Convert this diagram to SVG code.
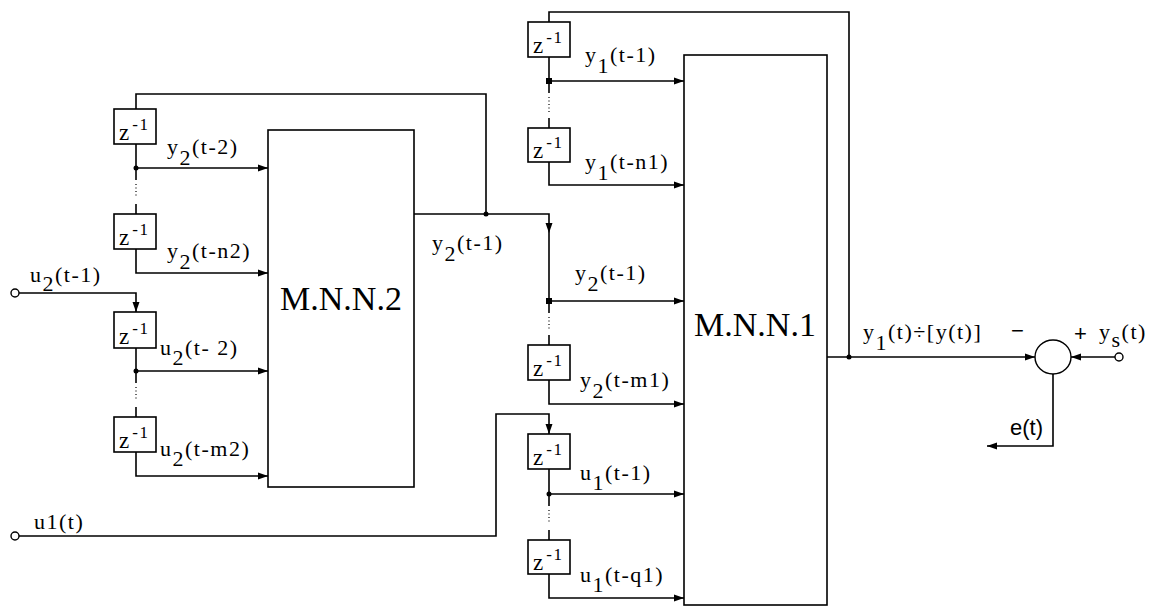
<svg xmlns="http://www.w3.org/2000/svg" width="1151" height="606" viewBox="0 0 1151 606">
<style>
.ln{fill:none;stroke:#000;stroke-width:1.6}
.dt{fill:none;stroke:#000;stroke-width:1.2;stroke-dasharray:1 2.5}
.bx{fill:#fff;stroke:#000;stroke-width:1.6}
.t{font-family:"Liberation Serif","Times New Roman",serif;font-size:22px;letter-spacing:1.5px;fill:#000}
.s{font-family:"Liberation Sans",Arial,sans-serif;font-size:22px;fill:#000}
.z{font-family:"Liberation Serif","Times New Roman",serif;font-size:23px;fill:#000}
.sup{font-size:17px;letter-spacing:1.5px}
.big{font-family:"Liberation Serif","Times New Roman",serif;font-size:34px;fill:#000}
.dot{fill:#000}
.term{fill:#fff;stroke:#000;stroke-width:1.4}
</style>
<defs>
<marker id="ah" markerUnits="userSpaceOnUse" markerWidth="10" markerHeight="8" refX="10" refY="4" orient="auto">
<path d="M0,0.5 L10,4 L0,7.5 z" fill="#000"/>
</marker>
</defs>
<rect width="1151" height="606" fill="#fff"/>

<g id="connectors">
<polyline class="ln" points="486,214 486,94 136,94 136,109"/>
<line class="ln" x1="136" y1="144" x2="136" y2="168"/>
<line class="ln" x1="136" y1="168" x2="268" y2="168" marker-end="url(#ah)"/>
<line class="ln" x1="136" y1="168" x2="136" y2="180"/>
<line class="dt" x1="136" y1="184" x2="136" y2="198"/>
<line class="ln" x1="136" y1="204" x2="136" y2="214"/>
<polyline class="ln" points="136,249 136,273 268,273" marker-end="url(#ah)"/>
<polyline class="ln" points="19,293 136,293 136,312" marker-end="url(#ah)"/>
<line class="ln" x1="136" y1="348" x2="136" y2="371"/>
<line class="ln" x1="136" y1="371" x2="268" y2="371" marker-end="url(#ah)"/>
<line class="ln" x1="136" y1="371" x2="136" y2="383"/>
<line class="dt" x1="136" y1="387" x2="136" y2="401"/>
<line class="ln" x1="136" y1="407" x2="136" y2="417"/>
<polyline class="ln" points="136,452 136,476 268,476" marker-end="url(#ah)"/>
<polyline class="ln" points="414,214 549,214 549,233" marker-end="url(#ah)"/>
<line class="ln" x1="549" y1="233" x2="549" y2="301"/>
<line class="ln" x1="549" y1="301" x2="684" y2="301" marker-end="url(#ah)"/>
<line class="ln" x1="549" y1="301" x2="549" y2="313"/>
<line class="dt" x1="549" y1="317" x2="549" y2="330"/>
<line class="ln" x1="549" y1="335" x2="549" y2="345"/>
<polyline class="ln" points="549,380 549,404 684,404" marker-end="url(#ah)"/>
<polyline class="ln" points="849,357 849,12 549,12 549,22"/>
<line class="ln" x1="549" y1="57" x2="549" y2="81"/>
<line class="ln" x1="549" y1="81" x2="684" y2="81" marker-end="url(#ah)"/>
<line class="ln" x1="549" y1="81" x2="549" y2="93"/>
<line class="dt" x1="549" y1="97" x2="549" y2="112"/>
<line class="ln" x1="549" y1="118" x2="549" y2="128"/>
<polyline class="ln" points="549,162 549,185 684,185" marker-end="url(#ah)"/>
<polyline class="ln" points="19,536 496,536 496,414 549,414 549,434" marker-end="url(#ah)"/>
<line class="ln" x1="549" y1="469" x2="549" y2="494"/>
<line class="ln" x1="549" y1="494" x2="684" y2="494" marker-end="url(#ah)"/>
<line class="ln" x1="549" y1="494" x2="549" y2="506"/>
<line class="dt" x1="549" y1="510" x2="549" y2="524"/>
<line class="ln" x1="549" y1="530" x2="549" y2="540"/>
<polyline class="ln" points="549,574 549,598 684,598" marker-end="url(#ah)"/>
<line class="ln" x1="827" y1="357" x2="1035" y2="357" marker-end="url(#ah)"/>
<line class="ln" x1="1115" y1="357" x2="1071" y2="357" marker-end="url(#ah)"/>
<polyline class="ln" points="1053,374 1053,446 987,446" marker-end="url(#ah)"/>
<circle class="dot" cx="136" cy="168" r="2.5"/>
<circle class="dot" cx="136" cy="371" r="2.5"/>
<circle class="dot" cx="486" cy="214" r="2.5"/>
<rect class="dot" x="546" y="78" width="6" height="6"/>
<rect class="dot" x="546" y="298" width="6" height="6"/>
<circle class="dot" cx="549" cy="494" r="2.5"/>
<circle class="dot" cx="849" cy="357" r="2.5"/>
</g>

<g id="mnn2">
<rect class="bx" x="268" y="130" width="146" height="357"/>
<text class="big" x="341" y="310" text-anchor="middle">M.N.N.2</text>
</g>
<g id="mnn1">
<rect class="bx" x="684" y="55" width="143" height="550"/>
<text class="big" x="755" y="336" text-anchor="middle">M.N.N.1</text>
</g>

<g id="z2a"><rect class="bx" x="114" y="109" width="42" height="35"/><text class="z" x="119" y="140">z<tspan class="sup" dx="3" dy="-10">-1</tspan></text></g>
<g id="z2b"><rect class="bx" x="114" y="214" width="42" height="35"/><text class="z" x="119" y="245">z<tspan class="sup" dx="3" dy="-10">-1</tspan></text></g>
<g id="z2c"><rect class="bx" x="114" y="312" width="42" height="36"/><text class="z" x="119" y="344">z<tspan class="sup" dx="3" dy="-10">-1</tspan></text></g>
<g id="z2d"><rect class="bx" x="114" y="417" width="42" height="35"/><text class="z" x="119" y="448">z<tspan class="sup" dx="3" dy="-10">-1</tspan></text></g>

<g id="z1a"><rect class="bx" x="528" y="22" width="42" height="35"/><text class="z" x="533" y="53">z<tspan class="sup" dx="3" dy="-10">-1</tspan></text></g>
<g id="z1b"><rect class="bx" x="528" y="128" width="42" height="34"/><text class="z" x="533" y="158">z<tspan class="sup" dx="3" dy="-10">-1</tspan></text></g>
<g id="z1c"><rect class="bx" x="528" y="345" width="42" height="35"/><text class="z" x="533" y="376">z<tspan class="sup" dx="3" dy="-10">-1</tspan></text></g>
<g id="z1d"><rect class="bx" x="528" y="434" width="42" height="35"/><text class="z" x="533" y="465">z<tspan class="sup" dx="3" dy="-10">-1</tspan></text></g>
<g id="z1e"><rect class="bx" x="528" y="540" width="42" height="34"/><text class="z" x="533" y="570">z<tspan class="sup" dx="3" dy="-10">-1</tspan></text></g>

<g id="sum">
<ellipse class="term" cx="1053" cy="357" rx="18" ry="17"/>
<text class="s" x="1011" y="338">−</text>
<text class="s" x="1074" y="341">+</text>
</g>
<g id="in-u2"><circle class="term" cx="15" cy="293" r="4"/></g>
<g id="in-u1"><circle class="term" cx="15" cy="536" r="4"/></g>
<g id="in-ys"><circle class="term" cx="1119" cy="357" r="4"/></g>

<g id="labels">
<text class="t" x="167" y="154">y<tspan dy="11">2</tspan><tspan dy="-11">(t-2)</tspan></text>
<text class="t" x="167" y="258">y<tspan dy="11">2</tspan><tspan dy="-11">(t-n2)</tspan></text>
<text class="t" x="30" y="282">u<tspan dy="9">2</tspan><tspan dy="-9">(t-1)</tspan></text>
<text class="t" x="160" y="355">u<tspan dy="10">2</tspan><tspan dy="-10">(t- 2)</tspan></text>
<text class="t" x="160" y="456">u<tspan dy="10">2</tspan><tspan dy="-10">(t-m2)</tspan></text>
<text class="t" x="34" y="529">u1(t)</text>
<text class="t" x="432" y="250">y<tspan dy="11">2</tspan><tspan dy="-11">(t-1)</tspan></text>
<text class="t" x="585" y="62">y<tspan dy="11">1</tspan><tspan dy="-11">(t-1)</tspan></text>
<text class="t" x="585" y="169">y<tspan dy="11">1</tspan><tspan dy="-11">(t-n1)</tspan></text>
<text class="t" x="575" y="280">y<tspan dy="11">2</tspan><tspan dy="-11">(t-1)</tspan></text>
<text class="t" x="580" y="387">y<tspan dy="11">2</tspan><tspan dy="-11">(t-m1)</tspan></text>
<text class="t" x="580" y="480">u<tspan dy="10">1</tspan><tspan dy="-10">(t-1)</tspan></text>
<text class="t" x="580" y="582">u<tspan dy="10">1</tspan><tspan dy="-10">(t-q1)</tspan></text>
<text class="t" x="863" y="339">y<tspan dy="11">1</tspan><tspan dy="-11">(t)÷[y(t)]</tspan></text>
<text class="t" x="1099" y="339">y<tspan dy="8">s</tspan><tspan dy="-8">(t)</tspan></text>
<text class="s" x="1010" y="435">e(t)</text>
</g>
</svg>
